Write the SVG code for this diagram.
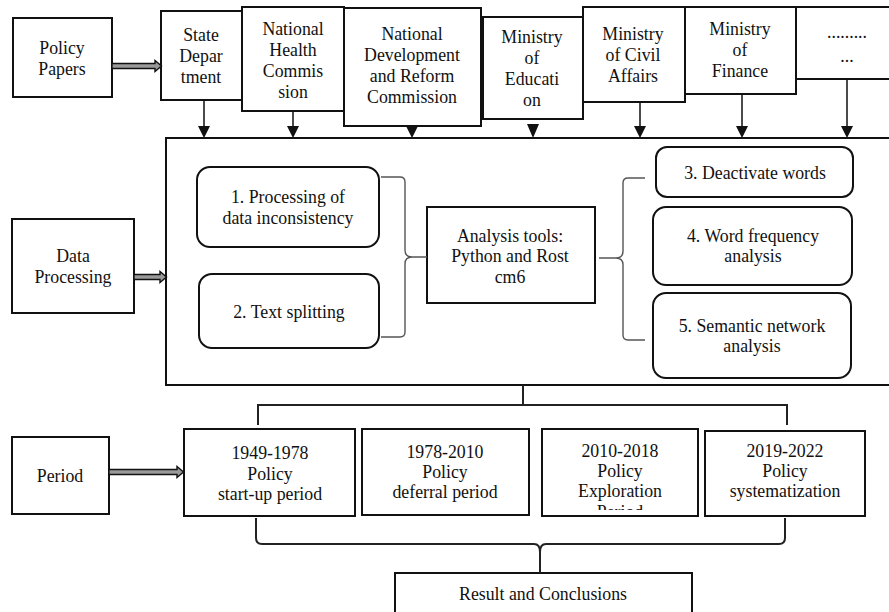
<svg xmlns="http://www.w3.org/2000/svg" width="889" height="612" viewBox="0 0 889 612">
<defs>
<style>
.b{fill:#fff;stroke:#111;stroke-width:2}
.r{fill:#fff;stroke:#111;stroke-width:2}
.t{font-family:'Liberation Serif','Times New Roman','DejaVu Serif',serif;font-size:17.8px;fill:#111;text-anchor:middle}
.ln{fill:none;stroke:#111;stroke-width:1.5}
.br{fill:none;stroke:#555;stroke-width:1.4}
.bk{fill:none;stroke:#222;stroke-width:2}
.da{fill:#9a9a9a;stroke:#111;stroke-width:1.4}
.ah{fill:#111}
</style>
<clipPath id="clipC"><rect x="542" y="429" width="156" height="81"/></clipPath>
</defs>

<g id="policy-papers">
<rect class="b" x="13" y="18" width="99" height="79"/>
<text class="t" x="62" y="54">Policy</text>
<text class="t" x="62" y="75">Papers</text>
</g>

<g id="state-department">
<rect class="b" x="161" y="11" width="82" height="89"/>
<text class="t" x="201" y="41">State</text>
<text class="t" x="201" y="62">Depar</text>
<text class="t" x="201" y="83">tment</text>
</g>

<g id="national-health-commission">
<rect class="b" x="242" y="7" width="102" height="104"/>
<text class="t" x="293" y="35">National</text>
<text class="t" x="293" y="56">Health</text>
<text class="t" x="293" y="77">Commis</text>
<text class="t" x="293" y="98">sion</text>
</g>

<g id="ndrc">
<rect class="b" x="344" y="8" width="137" height="118"/>
<text class="t" x="412" y="40">National</text>
<text class="t" x="412" y="61">Development</text>
<text class="t" x="412" y="82">and Reform</text>
<text class="t" x="412" y="103">Commission</text>
</g>

<g id="ministry-education">
<rect class="b" x="483" y="17" width="100" height="102"/>
<text class="t" x="532" y="43">Ministry</text>
<text class="t" x="532" y="64">of</text>
<text class="t" x="532" y="85">Educati</text>
<text class="t" x="532" y="106">on</text>
</g>

<g id="ministry-civil-affairs">
<rect class="b" x="583" y="7" width="102" height="95"/>
<text class="t" x="633" y="40">Ministry</text>
<text class="t" x="633" y="61">of Civil</text>
<text class="t" x="633" y="82">Affairs</text>
</g>

<g id="ministry-finance">
<rect class="b" x="685" y="7" width="111" height="87"/>
<text class="t" x="740" y="35">Ministry</text>
<text class="t" x="740" y="56">of</text>
<text class="t" x="740" y="77">Finance</text>
</g>

<g id="more">
<rect class="b" x="796" y="7" width="100" height="72"/>
<text class="t" x="847" y="38">.........</text>
<text class="t" x="847" y="62">...</text>
</g>

<g id="data-processing-box">
<rect class="b" x="166" y="138" width="730" height="247"/>
</g>

<g id="data-processing">
<rect class="b" x="12" y="219" width="122" height="94"/>
<text class="t" x="73" y="262">Data</text>
<text class="t" x="73" y="283">Processing</text>
</g>

<g id="step1">
<rect class="r" x="197" y="167" width="182" height="80" rx="13"/>
<text class="t" x="288" y="203">1. Processing of</text>
<text class="t" x="288" y="224">data inconsistency</text>
</g>

<g id="step2">
<rect class="r" x="199" y="274" width="180" height="74" rx="13"/>
<text class="t" x="289" y="318">2. Text splitting</text>
</g>

<g id="analysis-tools">
<rect class="b" x="427" y="207" width="168" height="96"/>
<text class="t" x="510" y="242">Analysis tools:</text>
<text class="t" x="510" y="262">Python and Rost</text>
<text class="t" x="510" y="283">cm6</text>
</g>

<g id="step3">
<rect class="r" x="656" y="147" width="197" height="50" rx="11"/>
<text class="t" x="755" y="179">3. Deactivate words</text>
</g>

<g id="step4">
<rect class="r" x="653" y="207" width="199" height="78" rx="13"/>
<text class="t" x="753" y="242">4. Word frequency</text>
<text class="t" x="753" y="262">analysis</text>
</g>

<g id="step5">
<rect class="r" x="653" y="293" width="198" height="85" rx="13"/>
<text class="t" x="752" y="332">5. Semantic network</text>
<text class="t" x="752" y="352">analysis</text>
</g>

<g id="period">
<rect class="b" x="12" y="437" width="97" height="77"/>
<text class="t" x="60" y="482">Period</text>
</g>

<g id="period-1949">
<rect class="b" x="184" y="429" width="171" height="87"/>
<text class="t" x="270" y="459">1949-1978</text>
<text class="t" x="270" y="480">Policy</text>
<text class="t" x="270" y="500">start-up period</text>
</g>

<g id="period-1978">
<rect class="b" x="362" y="429" width="167" height="86"/>
<text class="t" x="445" y="458">1978-2010</text>
<text class="t" x="445" y="478">Policy</text>
<text class="t" x="445" y="498">deferral period</text>
</g>

<g id="period-2010">
<rect class="b" x="542" y="429" width="156" height="87"/>
<text class="t" x="620" y="457">2010-2018</text>
<text class="t" x="620" y="477">Policy</text>
<text class="t" x="620" y="497">Exploration</text>
<text class="t" x="620" y="518" clip-path="url(#clipC)">Period</text>
</g>

<g id="period-2019">
<rect class="b" x="705" y="431" width="160" height="85"/>
<text class="t" x="785" y="457">2019-2022</text>
<text class="t" x="785" y="477">Policy</text>
<text class="t" x="785" y="497">systematization</text>
</g>

<g id="result">
<rect class="b" x="395" y="573" width="297" height="45"/>
<text class="t" x="543" y="600">Result and Conclusions</text>
</g>

<g id="connectors">
<path class="da" d="M112,63.5 H155 V60.5 L161.5,66 L155,71.5 V68.5 H112 Z"/>
<path class="da" d="M134,274.5 H160 V271.5 L166.5,277 L160,282.5 V279.5 H134 Z"/>
<path class="da" d="M109,469.5 H177 V466.5 L183.5,472 L177,477.5 V474.5 H109 Z"/>
<path class="ln" d="M204,100 V127 M293,111 V127 M412,126 V127 M640,102 V127 M742,94 V127 M847,79 V127"/>
<path class="ah" d="M198,126 H210 L204,138 Z M287,126 H299 L293,138 Z M406,126 H418 L412,138 Z M527,124 H539 L533,138 Z M634,126 H646 L640,138 Z M736,126 H748 L742,138 Z M841,126 H853 L847,138 Z"/>
<path class="br" d="M381,177 H400 Q405,177 405,182 V250 Q405,257 412,257 H427 M412,257 Q405,257 405,264 V332 Q405,337 400,337 H381"/>
<path class="br" d="M645,178 H628 Q623,178 623,183 V251 Q623,258 616,258 H599 M616,258 Q623,258 623,265 V335 Q623,340 628,340 H645"/>
<path class="bk" d="M523,385 V405 M258,425 V405 H787 V425"/>
<path class="bk" d="M256,518 V538 Q256,544 262,544 H534 Q540,544 540,552 V573 M540,552 Q540,544 546,544 H779 Q785,544 785,538 V518"/>
</g>
</svg>
